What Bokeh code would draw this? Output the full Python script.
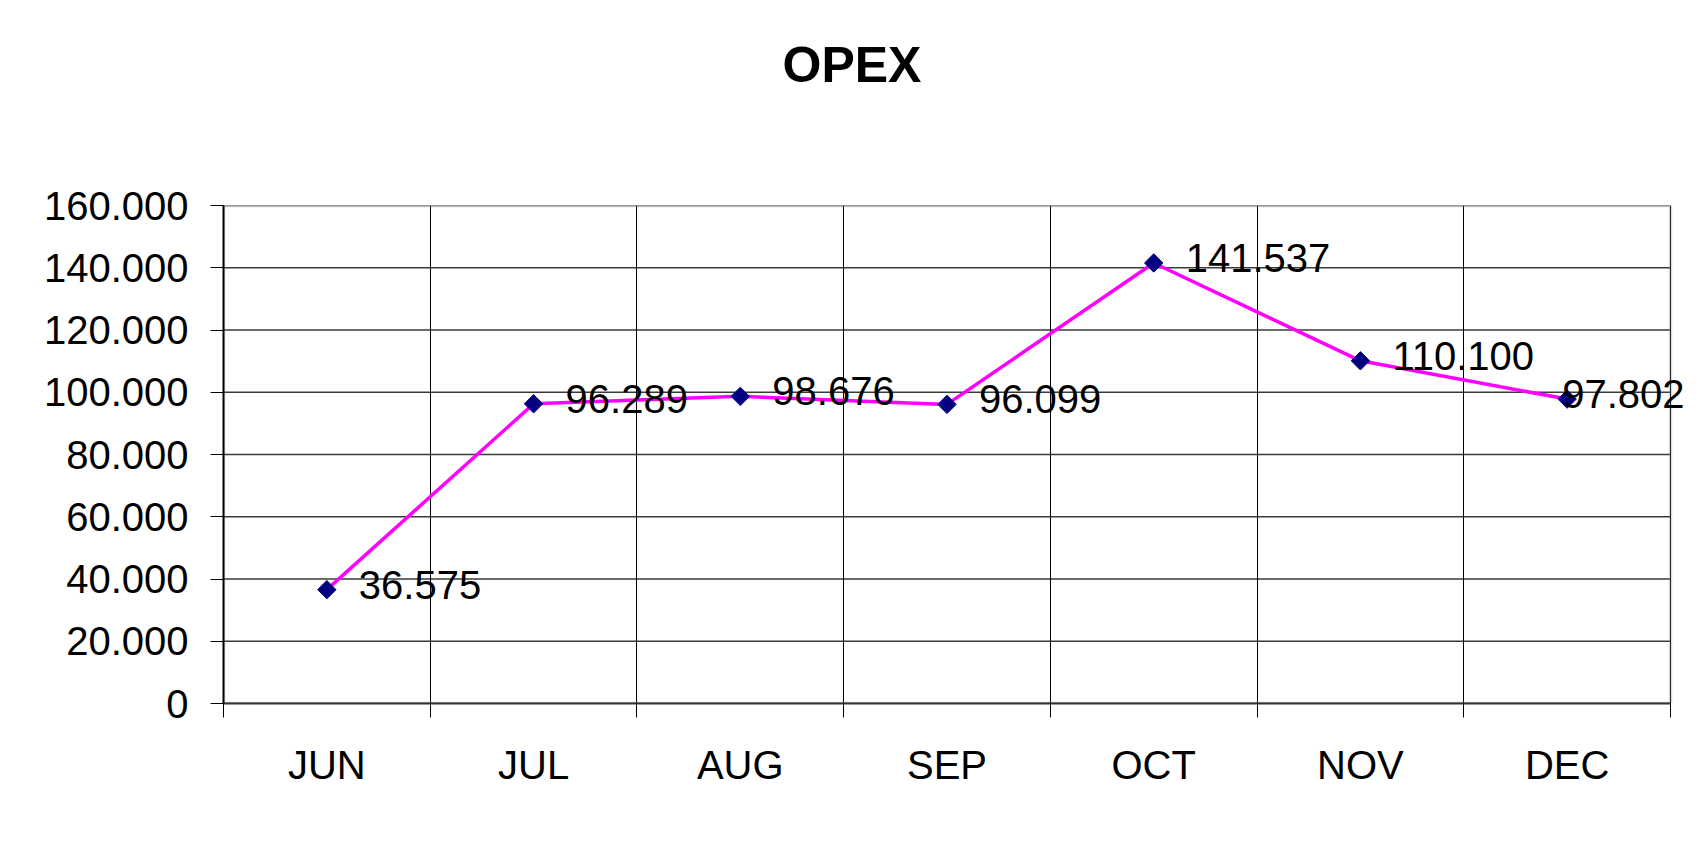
import numpy as np
from bokeh.plotting import figure
from bokeh.models import (FixedTicker, CustomJSTickFormatter, ColumnDataSource, Range1d,
                          LabelSet, BoxAnnotation, Title)
from bokeh.core.properties import value
from bokeh.embed import file_html
from bokeh.resources import INLINE

# ---- data ----
months = ["JUN", "JUL", "AUG", "SEP", "OCT", "NOV", "DEC"]
opex = [36575, 96289, 98676, 96099, 141537, 110100, 97802]
y_ticks = [0, 20000, 40000, 60000, 80000, 100000, 120000, 140000, 160000]
# label horizontal offsets (DEC label squeezed by the chart edge)
label_dx = [32, 32, 32, 32, 32, 32, -5]

FONT = "Liberation Sans"
W, H = 1683, 826
LEFT, PLOT_RIGHT, TOP, BOTTOM = 223, 1670, 205, 703

n = len(months)
xs = [i + 0.5 for i in range(n)]
labels = [f"{v:,}".replace(",", ".") for v in opex]
src = ColumnDataSource(dict(x=xs, y=opex, lab=labels, dx=label_dx))

# frame extends to the figure's right edge so the last label is not clipped;
# the visible plot box ends at the last category boundary
unit = (PLOT_RIGHT - LEFT) / n
x_end = n + (W - PLOT_RIGHT) / unit

p = figure(width=W, height=H, output_backend="svg", toolbar_location=None,
           x_range=Range1d(0, x_end), y_range=Range1d(0, y_ticks[-1]),
           min_border_left=LEFT, min_border_right=0, min_border_top=TOP,
           min_border_bottom=H - BOTTOM)

p.title.text = "OPEX"
p.title.align = "left"
p.title.offset = 559
p.title.text_font = FONT
p.title.text_font_size = "50px"
p.title.text_font_style = "bold"
p.title.text_color = "black"
p.title.standoff = 20
# invisible spacer between the title and the plot area
p.add_layout(Title(text=" ", text_font_size="10px", standoff=90), "above")

p.outline_line_color = None
p.background_fill_color = "white"
p.border_fill_color = "white"

# x axis: labels at category centers, ticks between categories
xa = p.xaxis[0]
xa.bounds = (0, n)
xa.ticker = FixedTicker(ticks=xs, minor_ticks=list(range(n + 1)))
xa.major_label_overrides = {x: m for x, m in zip(xs, months)}
xa.major_tick_line_color = None
xa.major_tick_out = 0
xa.major_tick_in = 0
xa.minor_tick_out = 14
xa.minor_tick_in = 0
xa.minor_tick_line_color = "black"
xa.axis_line_color = "#333333"
xa.axis_line_width = 2
xa.major_label_text_font = FONT
xa.major_label_text_font_size = "40px"
xa.major_label_text_color = "black"
xa.major_label_standoff = 25

# y axis
ya = p.yaxis[0]
ya.ticker = FixedTicker(ticks=y_ticks, minor_ticks=[])
ya.formatter = CustomJSTickFormatter(code="""
return Math.round(tick).toString().replace(/\\B(?=(\\d{3})+(?!\\d))/g, '.');
""")
ya.major_tick_out = 13
ya.major_tick_in = 0
ya.major_tick_line_color = "black"
ya.axis_line_color = "black"
ya.axis_line_width = 2
ya.major_label_text_font = FONT
ya.major_label_text_font_size = "40px"
ya.major_label_text_color = "black"
ya.major_label_standoff = 22

# grids
p.xgrid.ticker = FixedTicker(ticks=list(range(n + 1)))
p.xgrid.grid_line_color = "black"
p.xgrid.grid_line_width = 1
p.ygrid.grid_line_color = None
p.segment(x0=[0] * len(y_ticks), x1=[n] * len(y_ticks), y0=y_ticks, y1=y_ticks,
          line_color="#3a3a3a", line_width=1.5, level="underlay")

# plot area border (gray, like Excel)
p.add_layout(BoxAnnotation(left=0, right=n, bottom=0, top=y_ticks[-1],
                           fill_alpha=0, line_color="#888888", line_width=3.5,
                           level="underlay"))

p.line("x", "y", source=src, line_color="#FF00FF", line_width=3.5)
p.scatter("x", "y", source=src, marker="square", angle=np.pi / 4, size=13,
          fill_color="#000080", line_color="#000080")
p.add_layout(LabelSet(x="x", y="y", text="lab", source=src, x_offset="dx", y_offset=5,
                      text_font=value(FONT), text_font_size=value("40px"),
                      text_color="black", text_align="left", text_baseline="middle"))

open("out.html", "w").write(file_html(p, INLINE))
